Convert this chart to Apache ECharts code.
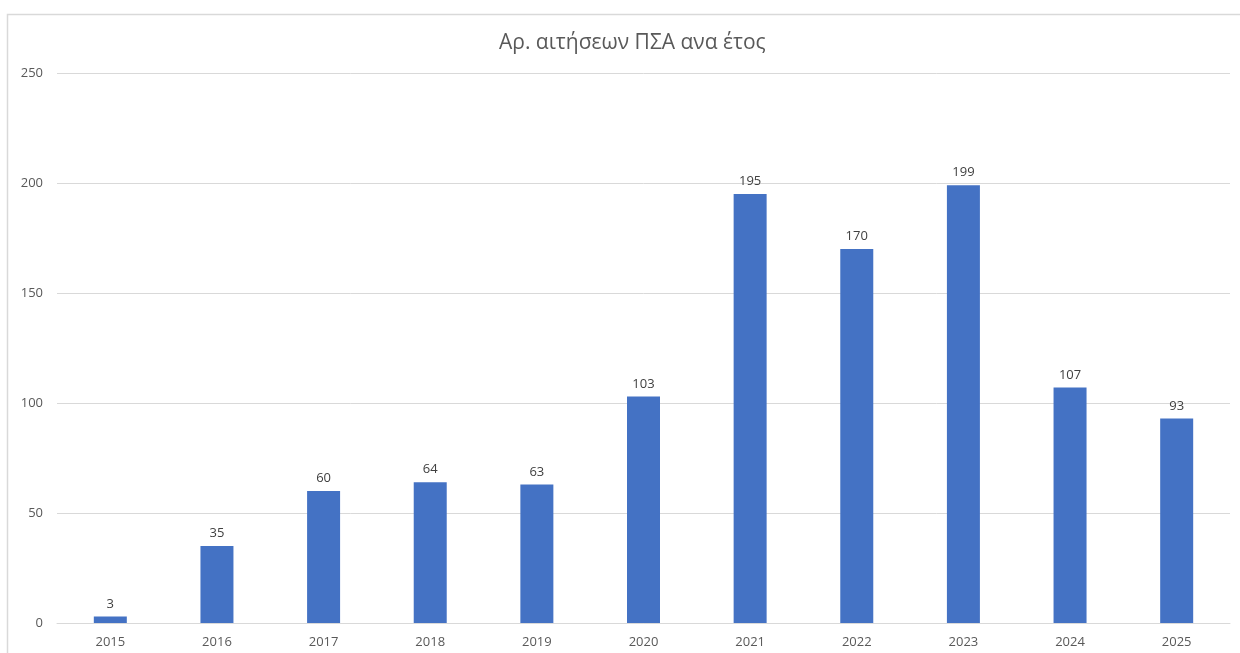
<!DOCTYPE html>
<html>
<head>
<meta charset="utf-8">
<script src="https://cdn.jsdelivr.net/npm/echarts@6/dist/echarts.min.js"></script>
<style>
html,body{margin:0;padding:0;background:#fff;}
#c{width:1240px;height:653px;}
</style>
</head>
<body>
<div id="c"></div>
<script>
var titleText = 'Αρ. αιτήσεων ΠΣΑ ανα έτος';
var years = ['2015','2016','2017','2018','2019','2020','2021','2022','2023','2024','2025'];
var applications = [3, 35, 60, 64, 63, 103, 195, 170, 199, 107, 93];
var yMin = 0, yMax = 250, yStep = 50;

var chart = echarts.init(document.getElementById('c'), null, {renderer:'canvas'});
var font = '"Open Sans", "Liberation Sans", sans-serif';
chart.setOption({
  animation: false,
  backgroundColor: '#ffffff',
  graphic: [{
    type: 'rect',
    shape: {x: 7.5, y: 14.5, width: 1300, height: 700},
    style: {fill: null, stroke: '#d9d9d9', lineWidth: 1.5},
    silent: true, z: -1
  }],
  title: {
    text: titleText,
    left: 494,
    top: 28,
    textStyle: {color: '#595959', fontSize: 21, fontWeight: 'normal', fontFamily: font}
  },
  grid: {left: 57, right: 10, top: 73, bottom: 30},
  xAxis: {
    type: 'category',
    data: years,
    axisLine: {lineStyle: {color: '#d9d9d9', width: 1}},
    axisTick: {show: false},
    axisLabel: {color: '#595959', fontSize: 13, fontFamily: font, margin: 13}
  },
  yAxis: {
    type: 'value',
    min: yMin, max: yMax, interval: yStep,
    axisLine: {show: false},
    axisTick: {show: false},
    splitLine: {lineStyle: {color: '#d9d9d9', width: 1}},
    axisLabel: {color: '#595959', fontSize: 13, fontFamily: font, margin: 14}
  },
  series: [{
    type: 'bar',
    data: applications,
    barWidth: 33,
    itemStyle: {color: '#4472c4'},
    label: {show: true, position: 'top', distance: 6, color: '#404040', fontSize: 13, fontFamily: font}
  }]
});
</script>
</body>
</html>
